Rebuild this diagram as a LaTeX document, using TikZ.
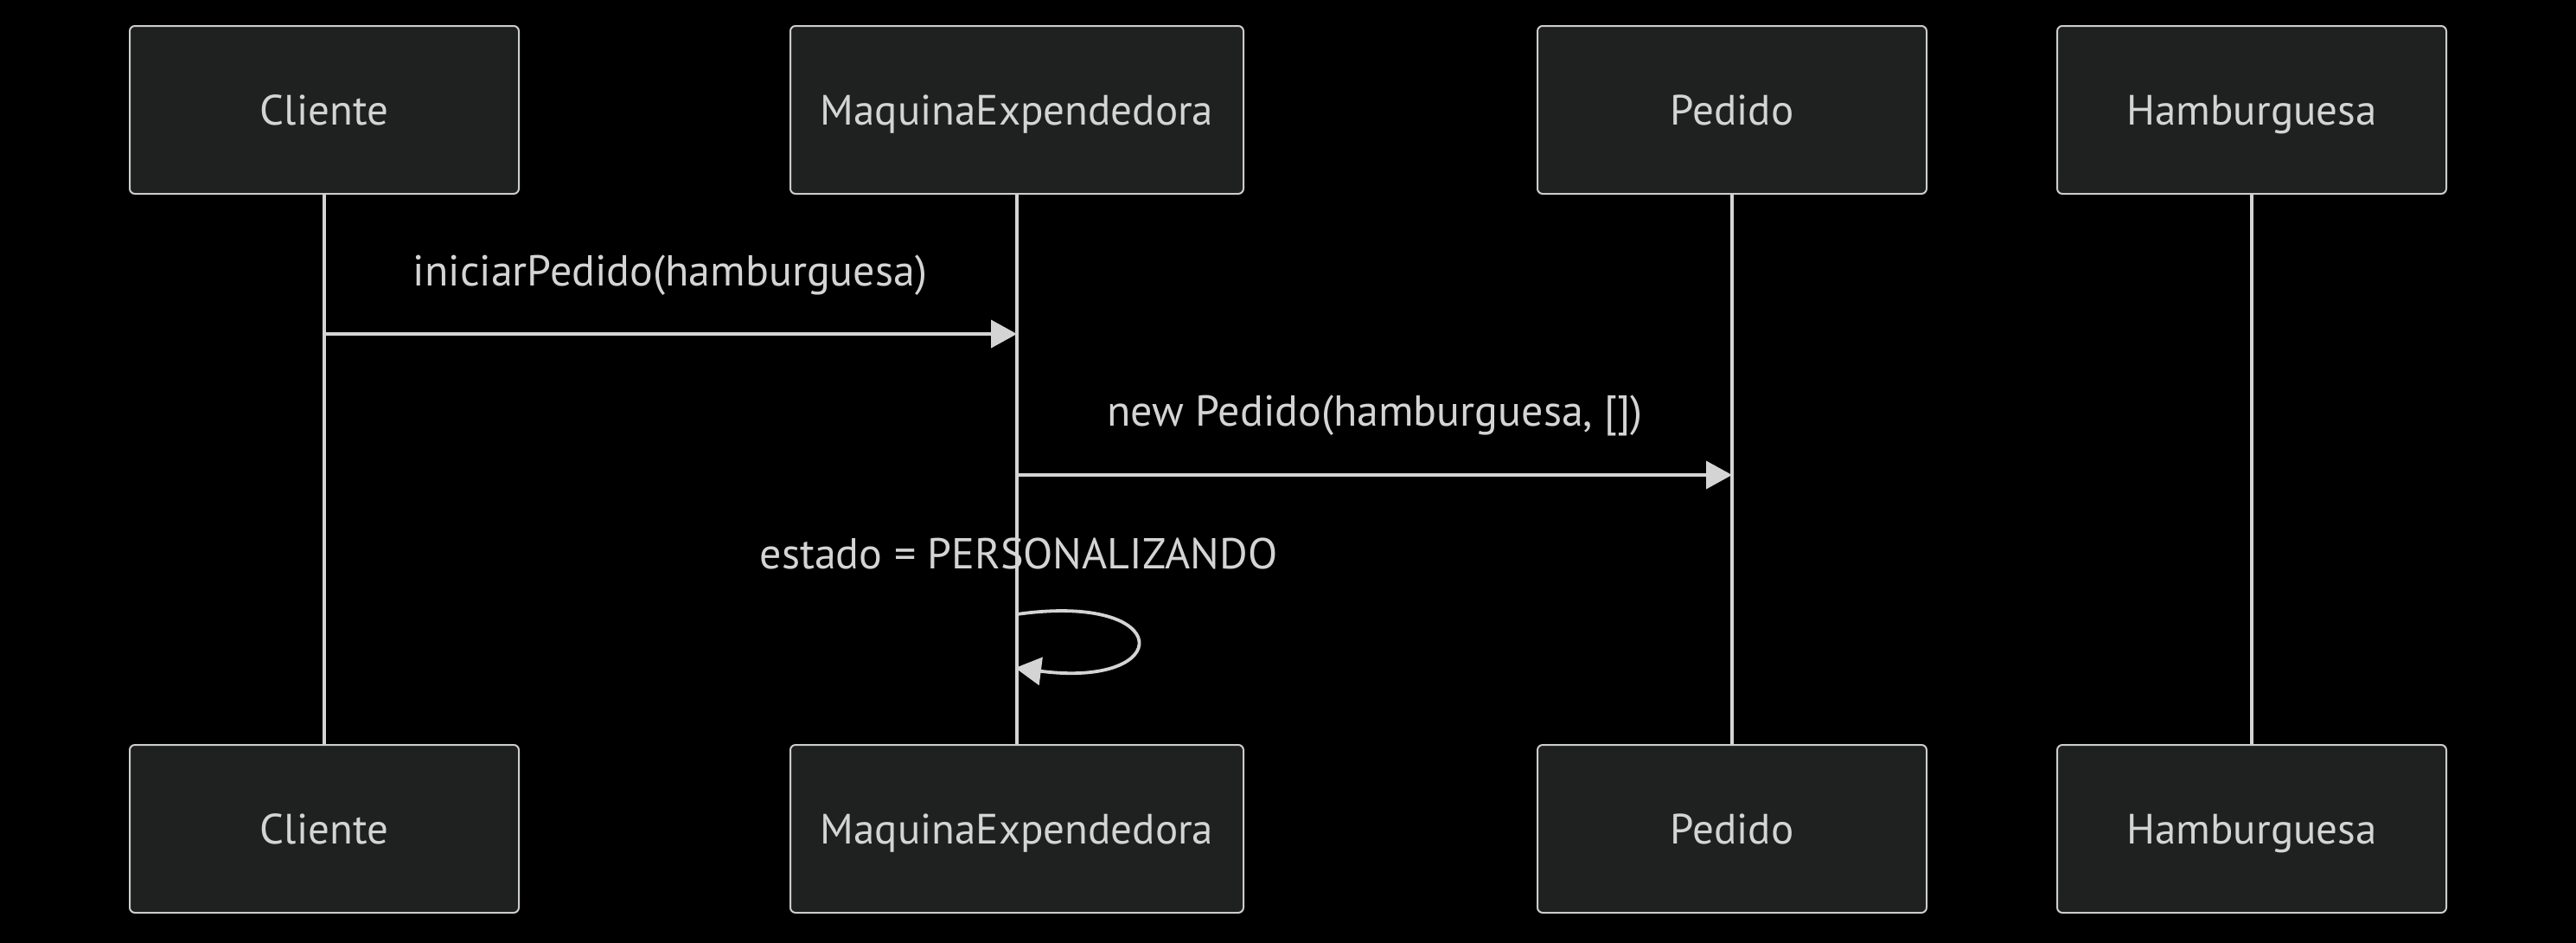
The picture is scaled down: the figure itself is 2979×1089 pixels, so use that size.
\documentclass[tikz,border=0pt]{standalone}
\usepackage{fontspec}
\setmainfont{PT Sans}
\usetikzlibrary{arrows.meta}
\definecolor{bg}{HTML}{000000}
\definecolor{boxfill}{HTML}{1F2020}
\definecolor{boxline}{HTML}{CCCCCC}
\definecolor{ink}{HTML}{D4D4D4}
\begin{document}
\begin{tikzpicture}[x=0.5pt,y=-0.5pt,
    actor/.style={draw=boxline,fill=boxfill,line width=1pt,rounded corners=3pt,minimum width=225pt,minimum height=97pt,text=ink,text height=17pt,text depth=0pt,font=\fontsize{24.5}{29}\selectfont},
    lifeline/.style={draw=ink,line width=2.3pt},
    msg/.style={draw=ink,line width=1.9pt,-{Triangle[length=15pt,width=16pt]}},
    msglabel/.style={text=ink,font=\fontsize{25}{30}\selectfont}]
        \useasboundingbox(0,0)rectangle(2979,1089);
        \fill[bg](-10,-10)rectangle(2989,1099);
        \node[actor](cliTop)at(375,127){Cliente};
        \node[actor,minimum width=262pt](maqTop)at(1176,127){MaquinaExpendedora};
        \node[actor](pedTop)at(2003,127){Pedido};
        \node[actor](hamTop)at(2604,127){Hamburguesa};
        \node[actor](cliBot)at(375,958){Cliente};
        \node[actor,minimum width=262pt](maqBot)at(1176,958){MaquinaExpendedora};
        \node[actor](pedBot)at(2003,958){Pedido};
        \node[actor](hamBot)at(2604,958){Hamburguesa};
        \foreach \n in {cli,maq,ped,ham}
            \draw[lifeline](\n Top.south)--(\n Bot.north);
        \coordinate(m1)at(0,386);
        \coordinate(m2)at(0,549);
        \draw[msg](cliTop.south|-m1)--(maqTop.south|-m1);
        \node[msglabel](l1)at(775,318){iniciarPedido(hamburguesa)};
        \draw[msg](maqTop.south|-m2)--(pedTop.south|-m2);
        \node[msglabel](l2)at(1590,480){new Pedido(hamburguesa, [])};
        \node[msglabel](l3)at(1178,640){estado = PERSONALIZANDO};
        \coordinate(s1)at(1176,710);
        \coordinate(s2)at(1174,772);
        \draw[msg](s1)..controls(1360,684)and(1360,796)..(s2);
    \end{tikzpicture}
\end{document}
